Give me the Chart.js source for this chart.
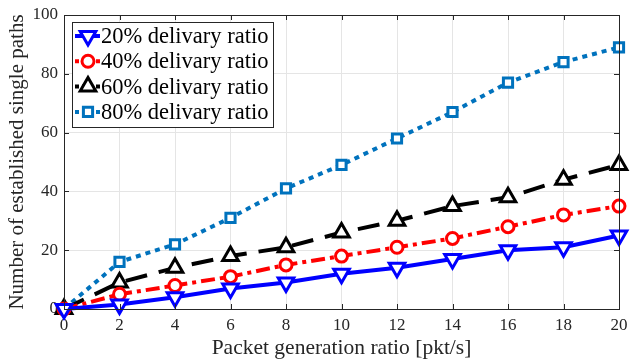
<!DOCTYPE html>
<html>
<head>
<meta charset="utf-8">
<script src="https://cdn.jsdelivr.net/npm/chart.js@4"></script>
<style>
  html, body { margin: 0; padding: 0; background: #fff; }
  #wrap { width: 631px; height: 361px; }
</style>
</head>
<body>
<div id="wrap"><canvas id="grafica"></canvas></div>
<script>
// datos
let ratios = [0, 2, 4, 6, 8, 10, 12, 14, 16, 18, 20];
let entrega20 = [0, 1.5, 4, 7, 9, 12, 14, 17, 20, 21, 25];
let entrega40 = [0, 5, 8, 11, 15, 18, 21, 24, 28, 32, 35];
let entrega60 = [0, 9, 14, 18, 21, 26, 30, 35, 38, 44, 49];
let entrega80 = [0, 16, 22, 31, 41, 49, 58, 67, 77, 84, 89];
let etiquetas = ['20% delivary ratio', '40% delivary ratio', '60% delivary ratio', '80% delivary ratio'];
let yTicks = [0, 20, 40, 60, 80, 100];

const fuente = "'Liberation Serif', 'DejaVu Serif', serif";
const azulMatlab = '#0072BD';

function serie(label, valores, color, dash, estilo, radio, rot) {
  return {
    label: label,
    data: valores.map((v, i) => ({ x: ratios[i], y: v })),
    borderColor: color,
    backgroundColor: '#fff',
    borderWidth: 4,
    borderDash: dash,
    pointStyle: estilo,
    pointRadius: radio,
    pointHoverRadius: radio,
    pointRotation: rot,
    pointBorderWidth: 3,
    pointBorderColor: color,
    pointBackgroundColor: '#fff',
    tension: 0,
    clip: false
  };
}

// leyenda dentro del area del grafico, estilo matlab
const leyendaPlugin = {
  id: 'leyendaInterna',
  afterDatasetsDraw(chart) {
    const ctx = chart.ctx;
    const x0 = 72, y0 = 22, w = 201, h = 105;
    ctx.save();
    ctx.fillStyle = '#fff';
    ctx.fillRect(x0, y0, w, h);
    ctx.strokeStyle = '#262626';
    ctx.lineWidth = 1;
    ctx.strokeRect(x0 + 0.5, y0 + 0.5, w, h);
    chart.data.datasets.forEach((ds, i) => {
      const y = 36 + i * 25.3;
      ctx.save();
      ctx.strokeStyle = ds.borderColor;
      ctx.lineWidth = 4;
      ctx.setLineDash(i === 0 ? [] : [4, 3]);
      ctx.beginPath();
      ctx.moveTo(75, y);
      ctx.lineTo(100, y);
      ctx.stroke();
      ctx.setLineDash([]);
      ctx.fillStyle = '#fff';
      ctx.strokeStyle = ds.borderColor;
      ctx.lineWidth = 3;
      Chart.helpers.drawPoint(ctx, {
        pointStyle: ds.pointStyle,
        rotation: ds.pointRotation,
        radius: ds.pointRadius,
        borderWidth: 3
      }, 88, y);
      ctx.restore();
      ctx.fillStyle = '#000';
      ctx.font = '22.5px ' + fuente;
      ctx.textBaseline = 'middle';
      ctx.fillText(etiquetas[i], 101, y + 1);
    });
    ctx.restore();
  }
};

// caja y marcas hacia adentro
const cajaPlugin = {
  id: 'caja',
  afterDraw(chart) {
    const a = chart.chartArea;
    const ctx = chart.ctx;
    const sx = chart.scales.x, sy = chart.scales.y;
    ctx.save();
    ctx.strokeStyle = '#262626';
    ctx.lineWidth = 1;
    ctx.beginPath();
    ratios.forEach(t => {
      const px = Math.round(sx.getPixelForValue(t)) + 0.5;
      ctx.moveTo(px, a.bottom); ctx.lineTo(px, a.bottom - 5);
      ctx.moveTo(px, a.top); ctx.lineTo(px, a.top + 5);
    });
    yTicks.forEach(t => {
      const py = Math.round(sy.getPixelForValue(t)) + 0.5;
      ctx.moveTo(a.left, py); ctx.lineTo(a.left + 5, py);
      ctx.moveTo(a.right, py); ctx.lineTo(a.right - 5, py);
    });
    ctx.stroke();
    ctx.strokeRect(Math.round(a.left) + 0.5, Math.round(a.top) + 0.5,
      Math.round(a.right - a.left), Math.round(a.bottom - a.top));
    ctx.restore();
  }
};

new Chart(document.getElementById('grafica'), {
  type: 'line',
  data: {
    datasets: [
      serie(etiquetas[0], entrega20, '#0000FF', [], 'triangle', 9, 180),
      serie(etiquetas[1], entrega40, '#FF0000', [14, 5, 4, 5], 'circle', 6, 0),
      serie(etiquetas[2], entrega60, '#000000', [22, 12], 'triangle', 9, 0),
      serie(etiquetas[3], entrega80, azulMatlab, [5, 5], 'rect', 6.5, 0)
    ]
  },
  options: {
    responsive: true,
    maintainAspectRatio: false,
    animation: false,
    layout: { padding: { left: 5, right: 9, top: 15, bottom: 0 } },
    plugins: {
      legend: { display: false },
      tooltip: { enabled: false }
    },
    scales: {
      x: {
        type: 'linear',
        min: 0,
        max: 20,
        afterBuildTicks: s => { s.ticks = ratios.map(v => ({ value: v })); },
        afterFit: s => { s.height = 52; s.paddingLeft = 0; s.paddingRight = 0; },
        grid: { color: '#e5e5e5', drawTicks: false },
        border: { display: false },
        ticks: { color: '#262626', font: { family: fuente, size: 17 }, padding: 6, maxRotation: 0 },
        title: { display: true, text: 'Packet generation ratio [pkt/s]', color: '#262626',
                 font: { family: fuente, size: 21.5 }, padding: { top: 0, bottom: 0 } }
      },
      y: {
        min: 0,
        max: 100,
        afterBuildTicks: s => { s.ticks = yTicks.map(v => ({ value: v })); },
        afterFit: s => { s.width = 59; s.paddingTop = 0; s.paddingBottom = 0; },
        grid: { color: '#e5e5e5', drawTicks: false },
        border: { display: false },
        ticks: { color: '#262626', font: { family: fuente, size: 17 }, padding: 6 },
        title: { display: true, text: 'Number of established single paths', color: '#262626',
                 font: { family: fuente, size: 21 }, padding: { top: 0, bottom: 0 } }
      }
    }
  },
  plugins: [leyendaPlugin, cajaPlugin]
});
</script>
</body>
</html>
